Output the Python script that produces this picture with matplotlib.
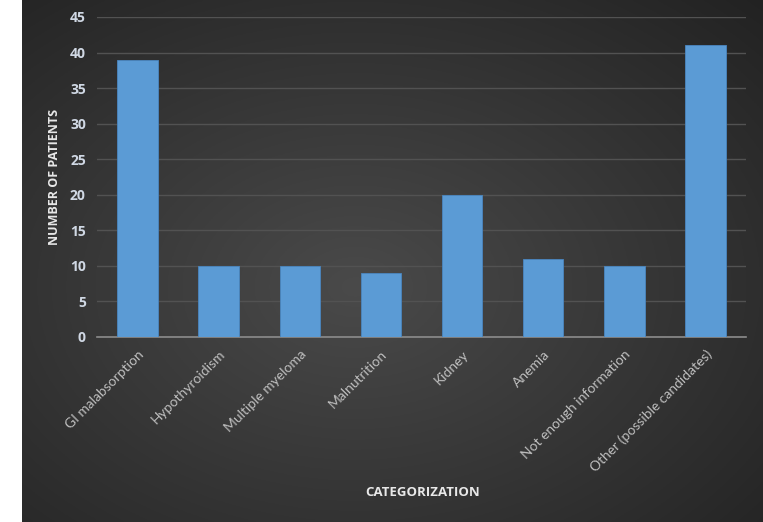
import numpy as np
import matplotlib.pyplot as plt

categories = ["GI malabsorption", "Hypothyroidism", "Multiple myeloma", "Malnutrition",
              "Kidney", "Anemia", "Not enough information", "Other (possible candidates)"]
patients = [39, 10, 10, 9, 20, 11, 10, 41]
y_ticks = [0, 5, 10, 15, 20, 25, 30, 35, 40, 45]

plt.rcParams['font.family'] = ['Lato', 'DejaVu Sans']
bold_font = ['Open Sans', 'DejaVu Sans']

W, H = 763, 522
fig = plt.figure(figsize=(W / 100, H / 100), dpi=100, facecolor='white')

# dark radial background (starts after white strip on the left)
bg = fig.add_axes([22 / W, 0, 1 - 22 / W, 1])
bg.set_axis_off()
yy, xx = np.mgrid[0:1:300j, 0:1:400j]
r = np.sqrt(((xx - 0.45) / 0.8) ** 2 + ((yy - 0.45) / 0.8) ** 2)
shade = 0.29 - 0.16 * np.clip(r, 0, 1.2)
bg.imshow(np.dstack([shade, shade, shade]), extent=[0, 1, 0, 1], aspect='auto', origin='lower')
bg.set_zorder(0)

ax = fig.add_axes([97 / W, (H - 337) / H, (746 - 97) / W, (337 - 17) / H])
ax.patch.set_alpha(0)
ax.set_zorder(1)

x = np.arange(len(categories))
ax.bar(x, patients, width=0.5, color='#5b9bd5', edgecolor='#4a86c0', linewidth=0.6, zorder=3)

ax.set_xlim(-0.5, len(categories) - 0.5)
ax.set_ylim(0, 45)
ax.set_yticks(y_ticks)
ax.yaxis.grid(True, color='#525252', linewidth=1.0, zorder=0)
ax.set_axisbelow(True)

for s in ['top', 'right', 'left']:
    ax.spines[s].set_visible(False)
ax.spines['bottom'].set_color('#8c8c8c')
ax.spines['bottom'].set_linewidth(1.2)

ax.tick_params(axis='both', length=0, pad=8)
ax.set_yticklabels([str(t) for t in y_ticks], fontweight='bold', family=bold_font,
                   fontsize=10, color='#d0d8e4')
ax.set_xticks(x)
ax.set_xticklabels(categories, rotation=45, ha='right', rotation_mode='anchor',
                   fontsize=10, color='#bfbfbf')

fig.text(55 / W, 1 - 177 / H, "NUMBER OF PATIENTS", rotation=90, ha='center', va='center',
         fontsize=9, fontweight='bold', family=bold_font, color='#e8e8e8')
fig.text(423 / W, 1 - 493 / H, "CATEGORIZATION", ha='center', va='center',
         fontsize=9.5, fontweight='bold', family=bold_font, color='#e8e8e8')

fig.savefig("out.png", dpi=100, facecolor='white')
